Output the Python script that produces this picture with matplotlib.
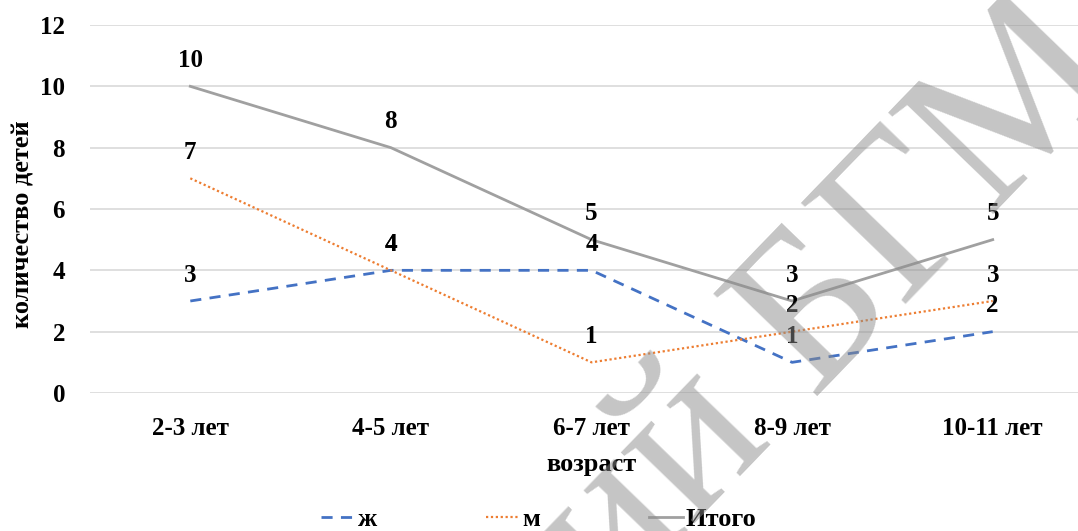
import numpy as np
import matplotlib.pyplot as plt

# данные
categories = ["2-3 лет", "4-5 лет", "6-7 лет", "8-9 лет", "10-11 лет"]
zh = [3, 4, 4, 1, 2]
m = [7, 4, 1, 2, 3]
itogo = [10, 8, 5, 3, 5]

plt.rcParams['font.family'] = ['Liberation Serif', 'DejaVu Serif']

fig = plt.figure(figsize=(10.78, 5.31), dpi=100)
# правый край области графика выходит за рисунок, как в оригинале
ax = fig.add_axes([90 / 1078, 1 - 393 / 531, 1003 / 1078, 368 / 531])

x = np.arange(len(categories))
ax.plot(x, zh, color='#4472C4', lw=2, ls=(0, (4, 3)), label='ж', zorder=3)
ax.plot(x, m, color='#ED7D31', lw=1.6, ls=(0, (1, 1.2)), label='м', zorder=3)
ax.plot(x, itogo, color='#A0A0A0', lw=2, label='Итого', zorder=3)

for ser in (zh, m, itogo):
    for xi, v in zip(x, ser):
        ax.annotate(str(v), (xi, v), xytext=(0, 26), textcoords='offset pixels',
                    ha='center', va='center', fontsize=18, fontweight='bold')

ax.set_xlim(-0.5, 4.5)
ax.set_ylim(0, 12)
ax.set_yticks(range(0, 13, 2))
ax.set_xticks(x)
ax.set_xticklabels(categories, fontweight='bold')
ax.set_yticklabels([str(v) for v in range(0, 13, 2)], fontweight='bold')
ax.tick_params(axis='both', length=0, labelsize=18)
ax.tick_params(axis='y', pad=18)
ax.tick_params(axis='x', pad=17)
ax.grid(axis='y', color='#D9D9D9', lw=1.2)
ax.set_axisbelow(True)
for s in ax.spines.values():
    s.set_visible(False)

ax.set_ylabel('количество детей', fontsize=19, fontweight='bold')
ax.yaxis.set_label_coords(-0.055, 0.46)
ax.set_xlabel('возраст', fontsize=19, fontweight='bold', labelpad=10)

fig.legend(loc='center', bbox_to_anchor=(0.5, 1 - 519 / 531), ncol=3, frameon=False,
           prop={'size': 19, 'weight': 'bold'}, columnspacing=4.1,
           handlelength=1.3, handletextpad=0.1, borderpad=0)

# водяной знак
fig.text(0.82, 0.53, 'ий БГМУ', fontsize=160, color='#8C8C8C', alpha=0.5,
         rotation=46, ha='center', va='center', zorder=10)

fig.savefig('out.png', dpi=100)
